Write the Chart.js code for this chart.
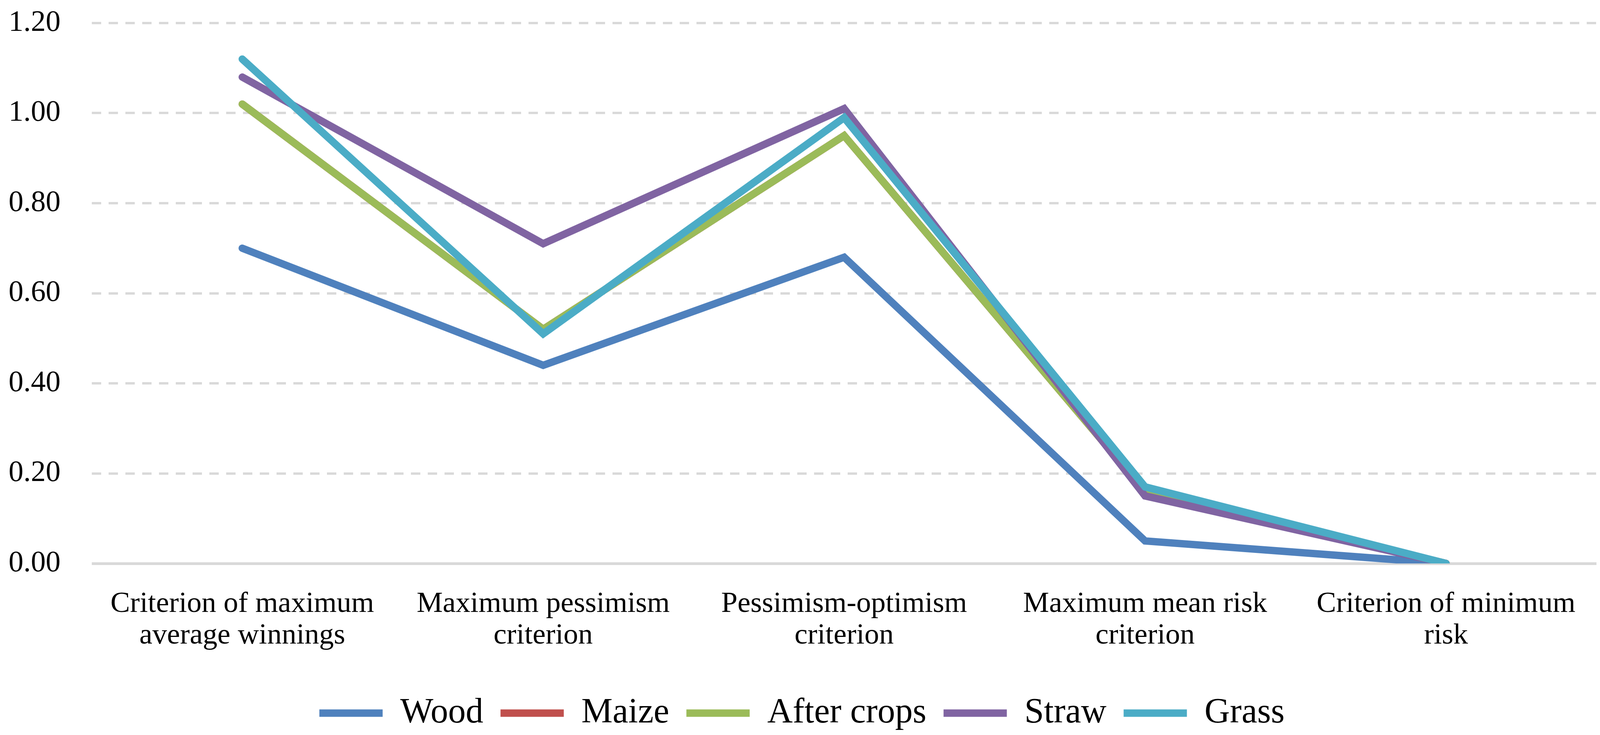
<!DOCTYPE html>
<html>
<head>
<meta charset="utf-8">
<script src="https://cdn.jsdelivr.net/npm/chart.js@4.4.1/dist/chart.umd.min.js"></script>
<style>
  html, body { margin: 0; padding: 0; background: #ffffff; overflow: hidden; }
  #wrap { width: 100vw; height: 100vh; position: relative; }
</style>
</head>
<body>
<div id="wrap"><canvas id="criteriaChart"></canvas></div>
<script>
// categories (x axis, two lines each)
const categories = [
    ["Criterion of maximum", "average winnings"],
    ["Maximum pessimism", "criterion"],
    ["Pessimism-optimism", "criterion"],
    ["Maximum mean risk", "criterion"],
    ["Criterion of minimum", "risk"]
];

// series values
const wood       = [0.70, 0.44, 0.68, 0.05, 0.00];
const maize      = [1.02, 0.52, 0.95, 0.16, 0.00];
const afterCrops = [1.02, 0.52, 0.95, 0.16, 0.00];
const straw      = [1.08, 0.71, 1.01, 0.15, 0.00];
const grass      = [1.12, 0.51, 0.99, 0.17, 0.00];

const seriesNames = ["Wood", "Maize", "After crops", "Straw", "Grass"];
const seriesData = [wood, maize, afterCrops, straw, grass];
const seriesColors = ["#4f81bd", "#c0504d", "#9bbb59", "#8064a2", "#4bacc6"];

// y axis ticks
const yTicks = [0, 0.2, 0.4, 0.6, 0.8, 1.0, 1.2];

const FONT = "'Liberation Serif', 'Times New Roman', serif";

document.addEventListener("DOMContentLoaded", function () {
    const canvas = document.getElementById("criteriaChart");
    const ctx = canvas.getContext("2d");

    // horizontal sizes were measured on a 4229 px wide picture
    const k = window.innerWidth / 4229;
    const padLeft = Math.round(20 * k);

    const datasets = seriesNames.map((name, i) => ({
        label: name,
        data: seriesData[i],
        borderColor: seriesColors[i],
        backgroundColor: seriesColors[i],
        borderWidth: 19,
        borderCapStyle: "round",
        borderJoinStyle: "miter",
        pointRadius: 0,
        pointHoverRadius: 0,
        fill: false,
        tension: 0,
        // later series on top, like the original
        order: seriesNames.length - i
    }));

    new Chart(ctx, {
        type: "line",
        data: { labels: categories, datasets: datasets },
        options: {
            responsive: true,
            maintainAspectRatio: false,
            devicePixelRatio: 1,
            animation: false,
            layout: { padding: { left: padLeft, right: Math.round(9 * k), top: 59, bottom: 1 } },
            plugins: {
                tooltip: { enabled: false },
                legend: {
                    position: "bottom",
                    labels: {
                        usePointStyle: true,
                        pointStyle: "line",
                        pointStyleWidth: Math.round(167 * k),
                        boxHeight: 19,
                        padding: 44,
                        color: "#000000",
                        font: { family: FONT, size: 90 },
                        sort: (a, b) => a.datasetIndex - b.datasetIndex
                    }
                }
            },
            scales: {
                x: {
                    offset: true,
                    grid: { display: false, drawTicks: false },
                    border: { display: false },
                    ticks: {
                        padding: 64,
                        maxRotation: 0,
                        autoSkip: false,
                        color: "#000000",
                        font: { family: FONT, size: 75, lineHeight: 1.08 }
                    },
                    afterFit: function (scale) {
                        scale.height += 4;
                        scale.paddingLeft = 0;
                        scale.paddingRight = 0;
                    }
                },
                y: {
                    min: 0,
                    max: 1.2,
                    afterBuildTicks: function (scale) {
                        scale.ticks = yTicks.map(v => ({ value: v }));
                    },
                    afterFit: function (scale) {
                        scale.width = Math.round(243 * k) - padLeft;
                        scale.paddingTop = 0;
                        scale.paddingBottom = 0;
                    },
                    grid: {
                        color: "#d9d9d9",
                        lineWidth: c => (c.tick && c.tick.value === 0 ? 7 : 6),
                        drawTicks: false
                    },
                    border: {
                        display: false,
                        dash: c => (c.tick && c.tick.value === 0 ? [] : [24, 19])
                    },
                    ticks: {
                        padding: Math.round(83 * k),
                        color: "#000000",
                        font: { family: FONT, size: 76 },
                        callback: v => Number(v).toFixed(2)
                    }
                }
            }
        }
    });
});
</script>
</body>
</html>
